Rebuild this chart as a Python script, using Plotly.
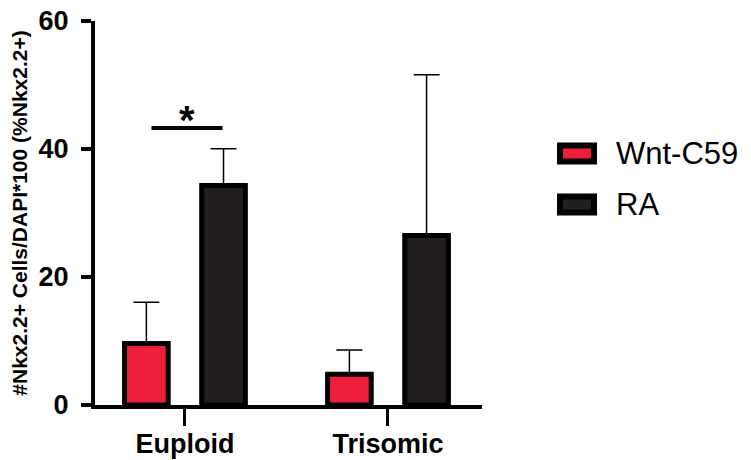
import plotly.graph_objects as go

# ---- data ----
categories = ["Euploid", "Trisomic"]
series_names = ["Wnt-C59", "RA"]
wnt_values = [9.6, 4.8]
wnt_errors = [6.45, 3.8]
ra_values = [34.3, 26.5]
ra_errors = [5.75, 25.1]
y_ticks = [0, 20, 40, 60]
y_title = "#Nkx2.2+ Cells/DAPI*100 (%Nkx2.2+)"
sig_label = "*"
sig_level = 43.3

# ---- style ----
RED = "#EE1F39"
DARK = "#231F20"
FONT = "Liberation Sans, Arial, sans-serif"
BAR_W = 0.215
OFFS = [-0.19, 0.19]

fig = go.Figure()
for name, vals, errs, color, off in [
    (series_names[0], wnt_values, wnt_errors, RED, OFFS[0]),
    (series_names[1], ra_values, ra_errors, DARK, OFFS[1]),
]:
    fig.add_trace(go.Bar(
        x=categories, y=vals, name=name,
        width=BAR_W, offset=off - BAR_W / 2,
        marker=dict(color=color, line=dict(color="black", width=5)),
        error_y=dict(type="data", array=errs, arrayminus=[0] * len(errs),
                     symmetric=False, color="black", thickness=1.5, width=13),
        showlegend=False,
    ))

L, R, T, B = 95, 269, 21, 55
W, H = 751, 460
pw, ph = W - L - R, H - T - B

def px_x(px):
    return (px - L) / pw

def px_y(py):
    return (H - B - py) / ph

shapes = []
annotations = []
# significance bar
shapes.append(dict(type="line", xref="x", yref="y", x0=-0.165, x1=0.185,
                   y0=sig_level, y1=sig_level,
                   line=dict(color="black", width=4)))
annotations.append(dict(x=0.01, y=sig_level, xref="x", yref="y", text=sig_label,
                        showarrow=False, yanchor="bottom", yshift=-16,
                        font=dict(family=FONT, size=40, color="black", weight="bold")))

# manual legend
for i, (name, color) in enumerate(zip(series_names, [RED, DARK])):
    cy = 153.5 + i * 51
    shapes.append(dict(type="rect", xref="paper", yref="paper",
                       x0=px_x(560), x1=px_x(594), y0=px_y(cy + 8), y1=px_y(cy - 8),
                       fillcolor=color, line=dict(color="black", width=6)))
    annotations.append(dict(x=px_x(614), y=px_y(cy), xref="paper", yref="paper",
                            text=name, showarrow=False, xanchor="left", yanchor="middle",
                            font=dict(family=FONT, size=31, color="black")))

fig.update_layout(
    width=W, height=H,
    margin=dict(l=L, r=R, t=T, b=B, autoexpand=False),
    paper_bgcolor="white", plot_bgcolor="white",
    barmode="group",
    shapes=shapes, annotations=annotations,
    xaxis=dict(
        type="category", range=[-0.443, 1.463],
        showline=True, linecolor="black", linewidth=4,
        ticks="outside", ticklen=17, tickwidth=3, tickcolor="black",
        ticklabelstandoff=-5,
        showgrid=False, zeroline=False,
        tickfont=dict(family=FONT, size=27, color="black", weight="bold"),
    ),
    yaxis=dict(
        range=[0, 60], tickvals=y_ticks,
        showline=True, linecolor="black", linewidth=4,
        ticks="outside", ticklen=10, tickwidth=4, tickcolor="black",
        ticklabelstandoff=7,
        showgrid=False, zeroline=False,
        tickfont=dict(family=FONT, size=27, color="black", weight="bold"),
        title=dict(text=y_title, standoff=6,
                   font=dict(family=FONT, size=21, color="black", weight="bold")),
    ),
)

fig.write_html("out.html")
